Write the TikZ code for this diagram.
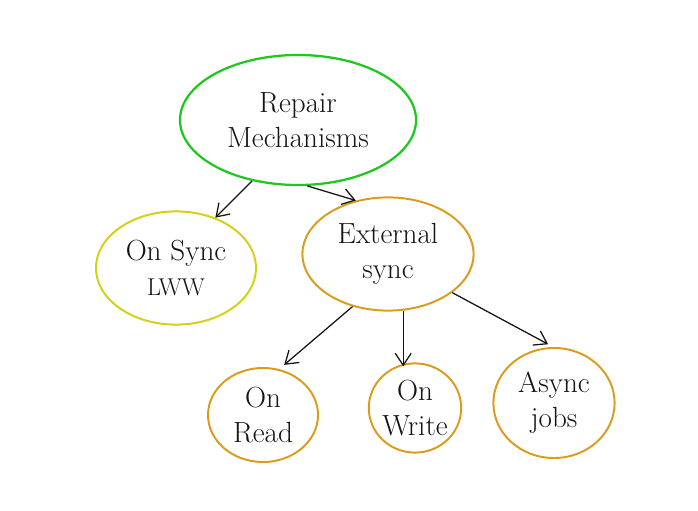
\documentclass[tikz,border=0pt]{standalone}
\usepackage{xcolor}
\definecolor{rmGreen}{RGB}{30,200,30}
\definecolor{rmLime}{RGB}{212,208,24}
\definecolor{rmAmber}{RGB}{218,156,28}
\definecolor{rmInk}{RGB}{20,20,20}
\usepackage{tikz}
\usetikzlibrary{positioning,arrows.meta,shapes.geometric}
\tikzset{
  rm-root/.style={ellipse,draw=rmGreen,line width=1.6pt,text=rmInk,align=center,
    font=\huge,inner sep=0pt,minimum width=5.9cm,minimum height=3.25cm},
  rm-sync/.style={ellipse,draw=rmLime,line width=1.4pt,text=rmInk,align=center,
    font=\huge,inner sep=0pt},
  rm-ext/.style={ellipse,draw=rmAmber,line width=1.4pt,text=rmInk,align=center,
    font=\huge,inner sep=0pt},
  rm-arrow/.style={-{Straight Barb[length=3mm,width=4mm]},rmInk,line width=0.9pt},
}
\begin{document}
\begin{tikzpicture}[x=0.025cm,y=-0.025cm]
  \useasboundingbox (0,0) rectangle (698,511);

  % root
  \node[rm-root] (repair) at (298,120) {Repair\\Mechanisms};

  % second level
  \node[rm-sync,minimum width=4.0cm,minimum height=2.83cm] (onsync) at (176,268) {On Sync\\\LARGE LWW};
  \node[rm-ext,minimum width=4.28cm,minimum height=2.83cm] (extsync) at (388,254) {External\\sync};

  % third level
  \node[rm-ext,minimum width=2.75cm,minimum height=2.35cm] (onread) at (263,415) {On\\Read};
  \node[rm-ext,minimum width=2.25cm,minimum height=2.23cm] (onwrite) at (415,408) {On\\Write};
  \node[rm-ext,minimum width=3.03cm,minimum height=2.75cm] (async) at (554,403) {Async\\jobs};

  % edges
  \draw[rm-arrow] (repair.233) -- (onsync.52);
  \draw[rm-arrow] (repair.278) -- (extsync.121);
  \draw[rm-arrow] (extsync.236) -- ([shift={(2,-5)}]onread.67);
  \draw[rm-arrow] (extsync.285) -- ([yshift=-1mm]extsync.285 |- onwrite.north);
  \draw[rm-arrow] (extsync.329) -- ([shift={(0,-3)}]async.96);
\end{tikzpicture}
\end{document}
